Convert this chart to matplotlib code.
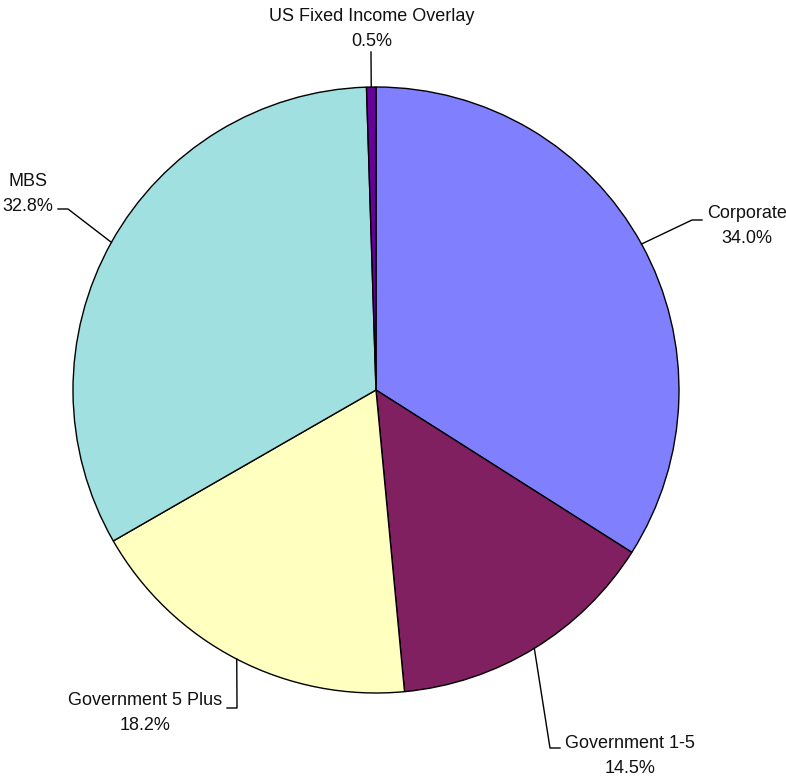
import numpy as np
import matplotlib
matplotlib.use("Agg")
import matplotlib.pyplot as plt

# --- Data ---
categories = ["Corporate", "Government 1-5", "Government 5 Plus", "MBS", "US Fixed Income Overlay"]
shares = [34.0, 14.5, 18.2, 32.8, 0.5]
pct_labels = ["34.0%", "14.5%", "18.2%", "32.8%", "0.5%"]

# --- Style ---
COLORS = ["#8080FF", "#802060", "#FFFFC0", "#A0E0E0", "#660099"]
FONT = ["Liberation Sans Narrow", "Liberation Sans", "DejaVu Sans"]
FONT_SIZE = 13
W, H, DPI = 786, 779, 100
CX, CY, R_PX = 376, 390, 303   # pie centre / radius in pixels


def px(x, y):
    """pixel position -> data units (radius 1 pie)"""
    return (x - CX) / R_PX, (CY - y) / R_PX


# layout of each label: elbow point, end of the horizontal tick, text anchor, alignment
LABEL_LAYOUT = [
    dict(elbow=(692, 220), tick=(702, 220), text=(707, 226), ha="left"),
    dict(elbow=(550, 748), tick=(560, 748), text=(565, 756), ha="left"),
    dict(elbow=(237, 708), tick=(227, 708), text=(222, 713), ha="right"),
    dict(elbow=(68, 209), tick=(58, 209), text=(53, 194), ha="right"),
    dict(elbow=(371, 52), tick=(371, 52), text=(372, 29), ha="center"),
]

plt.rcParams["font.family"] = FONT

fig = plt.figure(figsize=(W / DPI, H / DPI), dpi=DPI)
ax = fig.add_axes([0, 0, 1, 1])

wedges, _ = ax.pie(
    shares,
    colors=COLORS,
    startangle=90,
    counterclock=False,
    radius=1.0,
    wedgeprops=dict(edgecolor="black", linewidth=1.0),
)

# pie() resets the limits, so set them afterwards
ax.set_xlim(-CX / R_PX, (W - CX) / R_PX)
ax.set_ylim(-(H - CY) / R_PX, CY / R_PX)
ax.set_aspect("equal")
ax.axis("off")

for w, name, pct, lay in zip(wedges, categories, pct_labels, LABEL_LAYOUT):
    mid = np.deg2rad((w.theta1 + w.theta2) / 2)
    x0, y0 = np.cos(mid), np.sin(mid)
    ex, ey = px(*lay["elbow"])
    tx, ty = px(*lay["tick"])
    ax.plot([x0, ex, tx], [y0, ey, ty], color="black", lw=1.0)
    lx, ly = px(*lay["text"])
    ax.text(lx, ly, f"{name}\n{pct}", ha=lay["ha"], va="center",
            multialignment="center", fontsize=FONT_SIZE, linespacing=1.55,
            color="#111111")

fig.savefig("out.png", dpi=DPI)
